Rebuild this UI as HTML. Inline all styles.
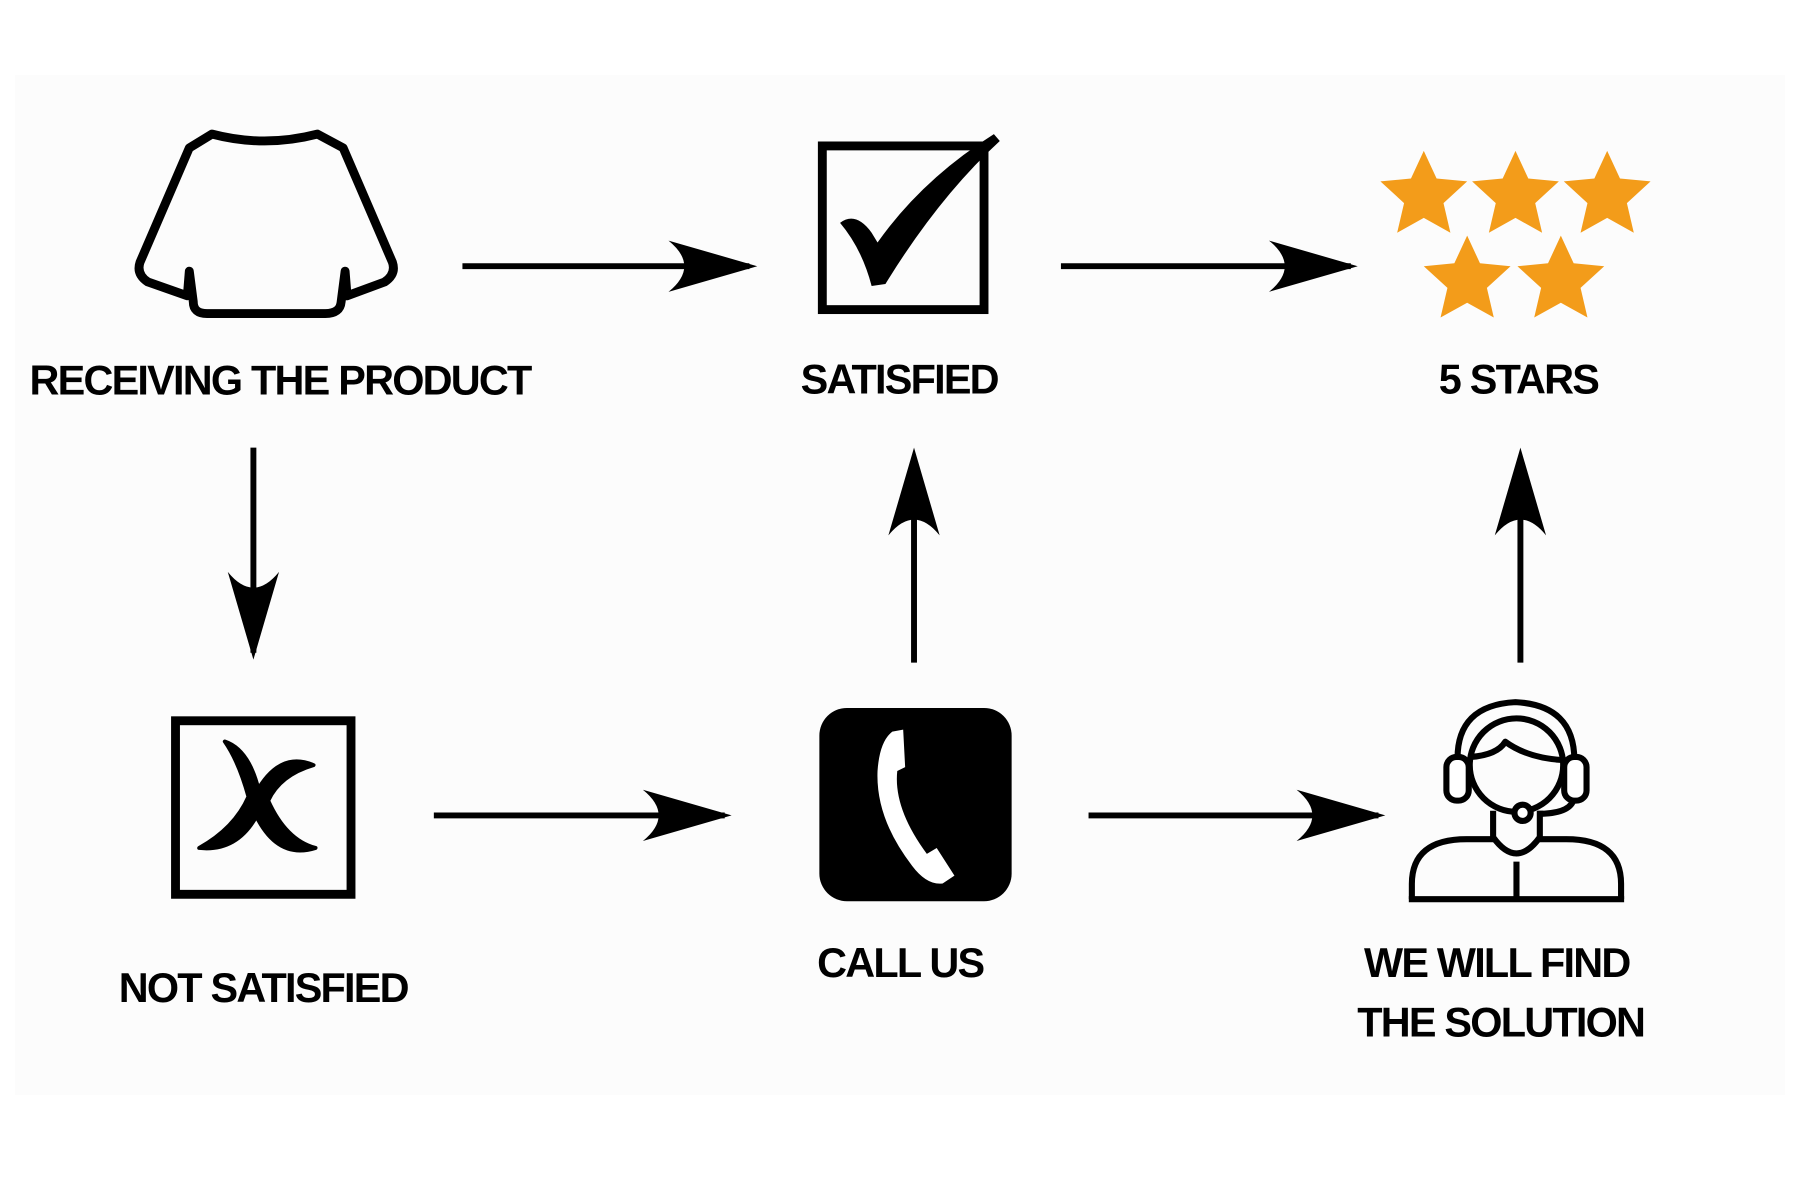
<!DOCTYPE html>
<html><head><meta charset="utf-8"><style>
html,body{margin:0;padding:0;background:#fff}
svg{display:block}
text{font-family:"Liberation Sans",sans-serif;font-weight:bold;font-size:42px;letter-spacing:-1.8px;fill:#000;text-anchor:middle}
</style></head><body>
<svg width="1800" height="1200" viewBox="0 0 1800 1200">
<rect x="15" y="75" width="1770" height="1020" fill="#fcfcfc"/>
<g transform="scale(0.986)">
<!-- shirt -->
<path d="M215 136 Q268 150 322 136 L348 150 L398 266 Q402 278 390 286 L352 300 L350 275 L346 306 Q345 318 330 318 L210 318 Q196 318 196 306 L192 275 L190 300 L150 286 Q138 278 142 266 L192 150 Z" fill="none" stroke="#000" stroke-width="9" stroke-linejoin="round"/>
<!-- checkbox -->
<rect x="834" y="148" width="164" height="166" fill="none" stroke="#000" stroke-width="9"/>
<path d="M852 226 Q868 214 884 236 L890 246 Q935 182 1008 136 L1014 143 Q952 200 898 288 L884 290 Q874 252 852 226 Z" fill="#000"/>
<!-- stars -->
<g fill="#f39c1a">
<polygon id="s" points="0,-45 13,-17 44,-14 20,8 27,38 0,23 -27,38 -20,8 -44,-14 -13,-17" transform="translate(1444,198)"/>
<use href="#s" x="93" y="0"/><use href="#s" x="186" y="0"/><use href="#s" x="44" y="86"/><use href="#s" x="139" y="86"/>
</g>
<!-- arrows -->
<g stroke="#000" stroke-width="6" fill="none">
<line x1="469" y1="270" x2="760" y2="270"/>
<line x1="1076" y1="270" x2="1370" y2="270"/>
<line x1="257" y1="454" x2="257" y2="662"/>
<line x1="927" y1="672" x2="927" y2="465"/>
<line x1="1542" y1="672" x2="1542" y2="465"/>
<line x1="440" y1="827" x2="735" y2="827"/>
<line x1="1104" y1="827" x2="1398" y2="827"/>
</g>
<g fill="#000">
<path d="M768 270 L678 244 Q710 270 678 296 Z"/>
<path d="M1377 270 L1287 244 Q1319 270 1287 296 Z"/>
<path d="M742 827 L652 801 Q684 827 652 853 Z"/>
<path d="M1405 827 L1315 801 Q1347 827 1315 853 Z"/>
<path d="M257 669 L231 580 Q257 612 283 580 Z"/>
<path d="M927 454 L901 543 Q927 511 953 543 Z"/>
<path d="M1542 454 L1516 543 Q1542 511 1568 543 Z"/>
</g>
<!-- X box -->
<rect x="178" y="731" width="178" height="176" fill="none" stroke="#000" stroke-width="9"/>
<path d="M228 752 Q252 760 262 800 Q285 762 318 776 Q284 786 272 812 Q290 852 320 860 Q282 872 260 828 Q240 864 202 860 Q238 840 252 808 Q242 772 228 752 Z" fill="#000" stroke="#000" stroke-width="4" stroke-linejoin="round"/>
<!-- phone -->
<rect x="831" y="718" width="195" height="196" rx="28" fill="#000"/>
<path d="M905 742 L916 740 L918 778 L910 782 Q906 820 940 866 L950 860 L968 888 L956 896 Q940 898 925 878 Q888 830 890 782 Q892 752 905 742 Z" fill="#fff"/>
<!-- person -->
<g fill="none" stroke="#000" stroke-width="6" stroke-linejoin="round" transform="translate(1538,812) scale(1.03) translate(-1519,-800)">
<path d="M1461 760 Q1460 706 1518 703 Q1576 706 1576 760"/>
<circle cx="1519" cy="765" r="46"/>
<path d="M1474 757 Q1500 755 1508 742 Q1530 758 1564 760"/>
<rect x="1450" y="757" width="22" height="43" rx="10" fill="#fff"/>
<rect x="1566" y="757" width="22" height="43" rx="10" fill="#fff"/>
<path d="M1575 800 Q1570 813 1540 813"/>
<circle cx="1525" cy="812" r="8" fill="#fff"/>
<path d="M1496 810 L1496 836 Q1519 868 1542 836 L1542 810"/>
<path d="M1416 897 L1416 882 Q1416 838 1470 838 L1496 838"/>
<path d="M1542 838 L1568 838 Q1622 838 1622 882 L1622 897"/>
<line x1="1413" y1="897" x2="1625" y2="897"/>
<line x1="1519" y1="860" x2="1519" y2="897"/>
</g>
<!-- labels -->
<text x="284" y="400">RECEIVING THE PRODUCT</text>
<text x="912" y="399">SATISFIED</text>
<text x="1540" y="399">5 STARS</text>
<text x="267" y="1016">NOT SATISFIED</text>
<text x="913" y="991">CALL US</text>
<text x="1518" y="991">WE WILL FIND</text>
<text x="1522" y="1051">THE SOLUTION</text>
</g>
</svg>
</body></html>
